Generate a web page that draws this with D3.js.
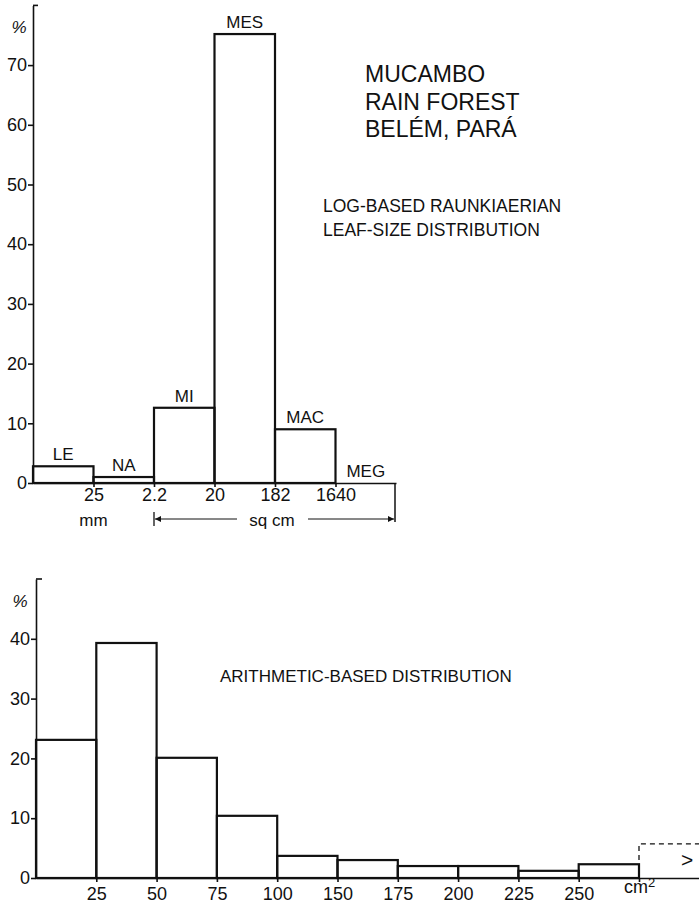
<!DOCTYPE html>
<html>
<head>
<meta charset="utf-8">
<script src="https://cdn.jsdelivr.net/npm/d3@7"></script>
<style>
  body { margin: 0; background: #fff; }
  svg text { font-family: "Liberation Sans", Arial, sans-serif; fill: #111; }
  .axis path, .axis line { stroke: #111; stroke-width: 1.6; }
</style>
</head>
<body>
<div id="chart"></div>
<script>
// top chart: log-based Raunkiaerian leaf size classes
const leafClasses = ["LE", "NA", "MI", "MES", "MAC", "MEG"];
const leafPercent = [2.8, 1.0, 12.6, 75.2, 9.0, 0];
const leafEdgeLabels = ["25", "2.2", "20", "182", "1640"];
const leafYTicks = [0, 10, 20, 30, 40, 50, 60, 70];

// bottom chart: arithmetic bins
const arithPercent = [23.1, 39.3, 20.1, 10.4, 3.7, 3.0, 2.0, 2.0, 1.2, 2.3];
const arithOverflow = [5.7];   // dashed last class (> cm2)
const arithEdgeLabels = ["25", "50", "75", "100", "150", "175", "200", "225", "250", "cm"];
const arithYTicks = [0, 10, 20, 30, 40];

const width = 699, height = 904;

const svg = d3.select("#chart").append("svg")
  .attr("width", width)
  .attr("height", height);

// ---------- TOP CHART ----------
const xTop = d3.scaleLinear().domain([0, leafClasses.length]).range([33, 396]);
const yTop = d3.scaleLinear().domain([0, 80]).range([483, 5.4]);

const gTop = svg.append("g");

gTop.append("g")
  .attr("class", "axis")
  .attr("transform", `translate(${xTop(0)},0)`)
  .call(d3.axisLeft(yTop).tickValues(leafYTicks).tickSize(5).tickSizeOuter(0).tickPadding(1))
  .selectAll("text").attr("font-size", 18);

// cap on top of y axis
gTop.append("line")
  .attr("x1", xTop(0)).attr("x2", xTop(0) + 5)
  .attr("y1", yTop(80)).attr("y2", yTop(80))
  .attr("stroke", "#111").attr("stroke-width", 1.6);

gTop.append("text")
  .attr("x", 19).attr("y", 33)
  .attr("text-anchor", "middle")
  .attr("font-size", 17)
  .attr("font-style", "italic")
  .text("%");

gTop.selectAll("rect.bar")
  .data(leafPercent)
  .join("rect")
  .attr("class", "bar")
  .attr("x", (d, i) => xTop(i))
  .attr("y", d => yTop(d))
  .attr("width", xTop(1) - xTop(0))
  .attr("height", d => yTop(0) - yTop(d))
  .attr("fill", "none")
  .attr("stroke", "#111")
  .attr("stroke-width", 2.2);

gTop.append("g")
  .attr("class", "axis")
  .attr("transform", `translate(0,${yTop(0)})`)
  .call(d3.axisBottom(xTop)
    .tickValues(d3.range(1, leafClasses.length))
    .tickFormat((d, i) => leafEdgeLabels[i])
    .tickSize(4).tickSizeOuter(0).tickPadding(1))
  .selectAll("text").attr("font-size", 18);

gTop.selectAll("text.cls")
  .data(leafClasses)
  .join("text")
  .attr("class", "cls")
  .attr("x", (d, i) => xTop(i + 0.5))
  .attr("y", (d, i) => yTop(leafPercent[i]) - 6)
  .attr("text-anchor", "middle")
  .attr("font-size", 17)
  .text(d => d);

// end line and units under the axis
gTop.append("line")
  .attr("x1", xTop(6) - 1).attr("x2", xTop(6) - 1)
  .attr("y1", yTop(0)).attr("y2", 522)
  .attr("stroke", "#111").attr("stroke-width", 1.5);

gTop.append("text")
  .attr("x", xTop(1)).attr("y", 526)
  .attr("text-anchor", "middle").attr("font-size", 17)
  .text("mm");

const defs = svg.append("defs");
defs.append("marker")
  .attr("id", "arrow")
  .attr("viewBox", "0 0 10 10")
  .attr("refX", 10).attr("refY", 5)
  .attr("markerWidth", 9).attr("markerHeight", 6)
  .attr("markerUnits", "userSpaceOnUse")
  .attr("orient", "auto")
  .append("path").attr("d", "M0,0L10,5L0,10Z").attr("fill", "#111");

const sqMid = (xTop(2) + xTop(6)) / 2 - 3;
gTop.append("line")
  .attr("x1", sqMid - 35).attr("x2", xTop(2) + 1)
  .attr("y1", 519).attr("y2", 519)
  .attr("stroke", "#111").attr("stroke-width", 1)
  .attr("marker-end", "url(#arrow)");
gTop.append("line")
  .attr("x1", sqMid + 36).attr("x2", xTop(6) - 2)
  .attr("y1", 519).attr("y2", 519)
  .attr("stroke", "#111").attr("stroke-width", 1)
  .attr("marker-end", "url(#arrow)");
gTop.append("line")
  .attr("x1", xTop(2)).attr("x2", xTop(2))
  .attr("y1", 512).attr("y2", 526)
  .attr("stroke", "#111").attr("stroke-width", 1.3);
gTop.append("text")
  .attr("x", sqMid).attr("y", 526)
  .attr("text-anchor", "middle").attr("font-size", 17)
  .text("sq cm");

// titles
const titleLines = ["MUCAMBO", "RAIN FOREST", "BEL\u00c9M, PAR\u00c1"];
svg.selectAll("text.title")
  .data(titleLines)
  .join("text")
  .attr("class", "title")
  .attr("x", 365)
  .attr("y", (d, i) => 82 + i * 27.5)
  .attr("font-size", 23)
  .text(d => d);

const subLines = ["LOG-BASED  RAUNKIAERIAN", "LEAF-SIZE  DISTRIBUTION"];
svg.selectAll("text.sub")
  .data(subLines)
  .join("text")
  .attr("class", "sub")
  .attr("x", 323)
  .attr("y", (d, i) => 212 + i * 24)
  .attr("font-size", 17.5)
  .text(d => d);

// ---------- BOTTOM CHART ----------
const xBot = d3.scaleLinear().domain([0, 11]).range([36, 699.3]);
const yBot = d3.scaleLinear().domain([0, 50]).range([878, 579]);

const gBot = svg.append("g");

gBot.append("g")
  .attr("class", "axis")
  .attr("transform", `translate(${xBot(0)},0)`)
  .call(d3.axisLeft(yBot).tickValues(arithYTicks).tickSize(5).tickSizeOuter(0).tickPadding(1))
  .selectAll("text").attr("font-size", 18);

gBot.append("line")
  .attr("x1", xBot(0)).attr("x2", xBot(0) + 6)
  .attr("y1", yBot(50)).attr("y2", yBot(50))
  .attr("stroke", "#111").attr("stroke-width", 1.6);

gBot.append("text")
  .attr("x", 20).attr("y", 607)
  .attr("text-anchor", "middle")
  .attr("font-size", 17)
  .attr("font-style", "italic")
  .text("%");

gBot.selectAll("rect.bar")
  .data(arithPercent)
  .join("rect")
  .attr("class", "bar")
  .attr("x", (d, i) => xBot(i))
  .attr("y", d => yBot(d))
  .attr("width", xBot(1) - xBot(0))
  .attr("height", d => yBot(0) - yBot(d))
  .attr("fill", "none")
  .attr("stroke", "#111")
  .attr("stroke-width", 2.2);

// dashed open-ended class
const overflowLine = d3.line();
gBot.selectAll("path.over")
  .data(arithOverflow)
  .join("path")
  .attr("class", "over")
  .attr("d", d => overflowLine([[xBot(10), yBot(0)], [xBot(10), yBot(d)], [xBot(11), yBot(d)]]))
  .attr("fill", "none")
  .attr("stroke", "#111")
  .attr("stroke-width", 1.3)
  .attr("stroke-dasharray", "5,4");

gBot.append("text")
  .attr("x", xBot(10.8)).attr("y", yBot(1.9))
  .attr("text-anchor", "middle")
  .attr("font-size", 21)
  .attr("font-weight", 300)
  .text(">");

const botXAxis = gBot.append("g")
  .attr("class", "axis")
  .attr("transform", `translate(0,${yBot(0)})`)
  .call(d3.axisBottom(xBot)
    .tickValues(d3.range(1, arithEdgeLabels.length + 1))
    .tickFormat((d, i) => arithEdgeLabels[i])
    .tickSize(4).tickSizeOuter(0).tickPadding(5));
botXAxis.selectAll("text").attr("font-size", 18);

// cm2 label sits a bit higher than the numbers, with a superscript 2
botXAxis.selectAll("text")
  .filter(d => d === arithEdgeLabels.length)
  .attr("y", 2)
  .append("tspan")
  .attr("font-size", 13)
  .attr("dy", "-0.45em")
  .text("2");

svg.append("text")
  .attr("x", 220).attr("y", 682)
  .attr("font-size", 17)
  .text("ARITHMETIC-BASED  DISTRIBUTION");
</script>
</body>
</html>
